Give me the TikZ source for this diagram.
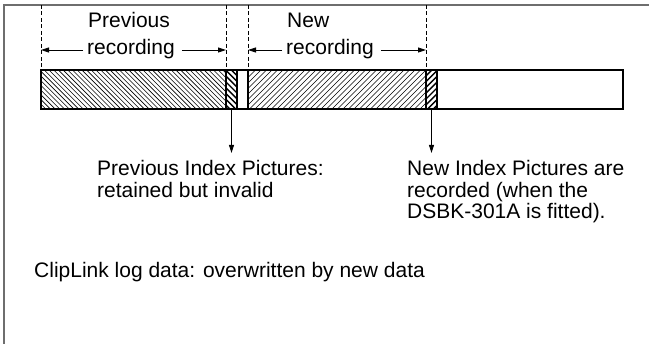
\documentclass[tikz,border=0pt]{standalone}
\usepackage{fontspec}
\setmainfont{Liberation Sans}
\usetikzlibrary{arrows.meta}
\definecolor{framecol}{RGB}{110,110,110}
\begin{document}
\begin{tikzpicture}[x=1pt,y=-1pt,
  lbl/.style={anchor=base west,inner sep=0pt,font=\fontsize{21}{22}\selectfont},
  dashln/.style={line width=0.9pt,dash pattern=on 4pt off 2.5pt},
  arr/.style={line width=0.9pt,-{Triangle[length=8pt,width=5pt]}},
  hatchln/.style={line width=0.6pt},
  denseln/.style={line width=1.4pt},
  sepln/.style={line width=1.6pt}]
\useasboundingbox (0,0) rectangle (649,344);
% frame
\draw[framecol,line width=1.5pt] (4,344) -- (4,5) -- (649,5);
% hatching: previous recording
\begin{scope}
  \clip (41,70) rectangle (226,109);
  \foreach \x in {2,6.7,...,230} \draw[hatchln] (\x,70) -- ++(39,39);
\end{scope}
% hatching: new recording
\begin{scope}
  \clip (248,70) rectangle (426,109);
  \foreach \x in {250,255.5,...,470} \draw[hatchln] (\x,70) -- ++(-39,39);
\end{scope}
% dense blocks (index pictures)
\begin{scope}
  \clip (226,70) rectangle (237,109);
  \foreach \x in {185,190.8,...,240} \draw[denseln] (\x,70) -- ++(39,39);
\end{scope}
\begin{scope}
  \clip (426,70) rectangle (437,109);
  \foreach \x in {426,431.8,...,480} \draw[denseln] (\x,70) -- ++(-39,39);
\end{scope}
% bar outline and separators
\draw[line width=2pt] (41,70) rectangle (623,109);
\foreach \x in {226,237,248,426,437} \draw[sepln] (\x,70) -- (\x,109);
% dashed guide lines
\foreach \x in {41,226,248,426} \draw[dashln] (\x,5) -- (\x,70);
% top labels
\node[lbl] (prevA) at (88,28) {Previous};
\node[lbl] (prevB) at (87,55) {recording};
\node[lbl] (newA) at (287,28) {New};
\node[lbl] (newB) at (286,55) {recording};
\coordinate (d1) at (41,50);
\coordinate (d2) at (226,50);
\coordinate (d3) at (248,50);
\coordinate (d4) at (426,50);
\draw[arr] ([xshift=-4pt]prevB.west |- d1) -- (d1);
\draw[arr] ([xshift=7pt]prevB.east |- d2) -- (d2);
\draw[arr] ([xshift=-4pt]newB.west |- d3) -- (d3);
\draw[arr] ([xshift=7pt]newB.east |- d4) -- (d4);
% vertical arrows
\coordinate (v1) at (231.5,109);
\coordinate (v1t) at (231.5,153);
\coordinate (v2) at (431.5,109);
\coordinate (v2t) at (431.5,153);
\draw[arr] (v1) -- (v1t);
\draw[arr] (v2) -- (v2t);
% bottom texts
\node[lbl] (pA) at (97,176) {Previous Index Pictures:};
\node[lbl] (pB) at (97,198) {retained but invalid};
\node[lbl] (nA) at (407,176) {New Index Pictures are};
\node[lbl] (nB) at (407,197.5) {recorded (when the};
\node[lbl] (nC) at (407,219) {DSBK-301A is fitted).};
\node[lbl] (clip) at (34,278) {ClipLink log data: overwritten by new data};
\end{tikzpicture}
\end{document}
